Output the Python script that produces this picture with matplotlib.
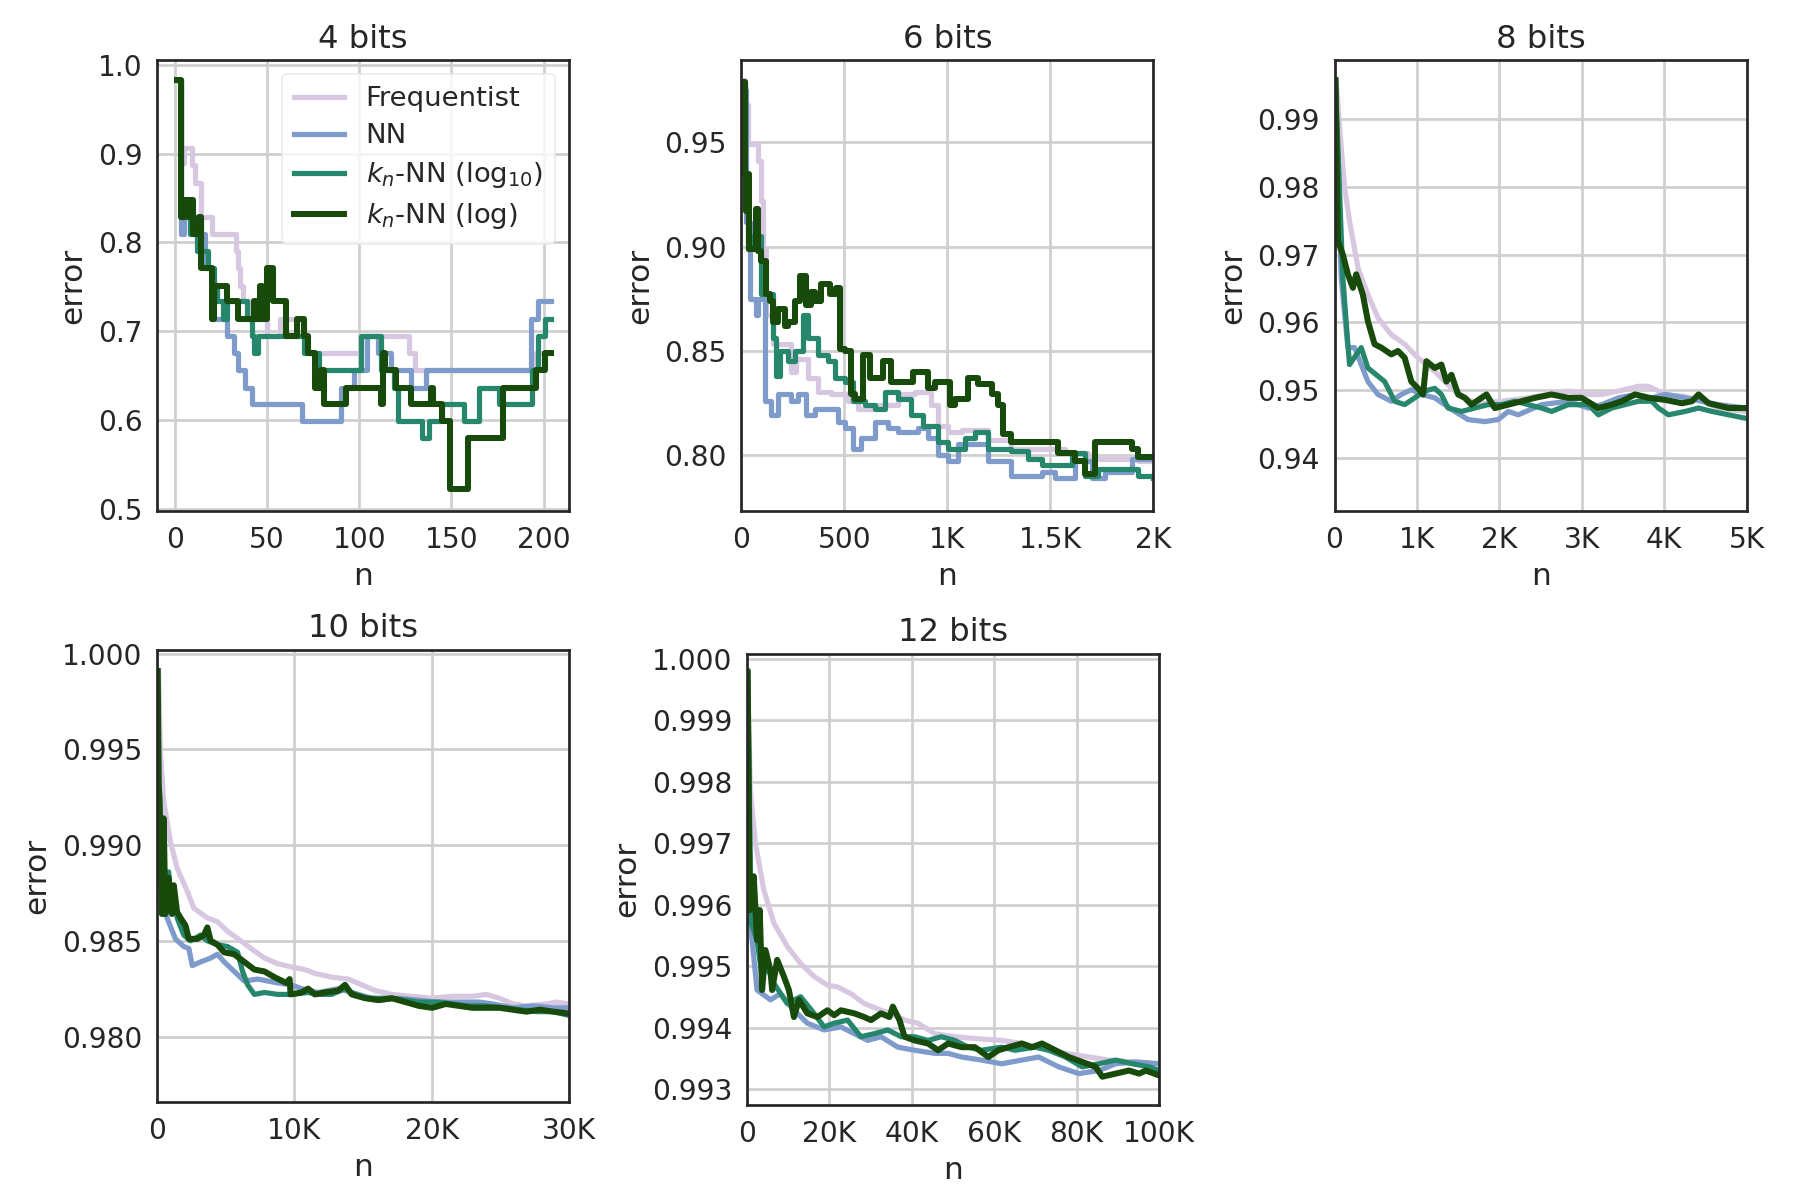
import matplotlib
matplotlib.use("Agg")
import matplotlib.pyplot as plt

# ---------------- data ----------------
series_names = ["Frequentist", "NN", r"$k_n$-NN (log$_{10}$)", r"$k_n$-NN (log)"]
colors = ["#d8c7e1", "#7f9bcb", "#27876d", "#174a0b"]
titles = ["4 bits", "6 bits", "8 bits", "10 bits", "12 bits"]

# ---- 4 bits (step curves) ----
b4_freq_x = [1, 3, 5, 9, 11, 14, 20, 33, 34, 35, 37, 40, 50, 57, 70, 72, 101, 127, 130, 196, 204]
b4_freq_y = [0.983, 0.890, 0.906, 0.887, 0.867, 0.829, 0.810, 0.790, 0.771, 0.751, 0.734, 0.714, 0.695, 0.714, 0.695, 0.675, 0.695, 0.675, 0.656, 0.675, 0.675]
b4_nn_x = [1, 3, 5, 14, 16, 20, 28, 32, 34, 38, 40, 42, 69, 90, 97, 104, 110, 117, 128, 136, 193, 197, 204]
b4_nn_y = [0.983, 0.810, 0.829, 0.810, 0.771, 0.714, 0.695, 0.675, 0.656, 0.636, 0.636, 0.618, 0.599, 0.636, 0.656, 0.695, 0.675, 0.656, 0.636, 0.656, 0.714, 0.734, 0.734]
b4_l10_x = [1, 3, 5, 8, 12, 18, 21, 23, 26, 28, 39, 42, 43, 45, 70, 78, 101, 112, 119, 121, 134, 138, 145, 157, 165, 176, 194, 197, 201, 204]
b4_l10_y = [0.983, 0.829, 0.848, 0.810, 0.790, 0.771, 0.751, 0.734, 0.714, 0.734, 0.714, 0.695, 0.675, 0.695, 0.675, 0.656, 0.695, 0.656, 0.636, 0.599, 0.580, 0.599, 0.618, 0.599, 0.636, 0.618, 0.656, 0.695, 0.714, 0.714]
b4_log_x = [1, 3, 5, 7, 8, 10, 13, 14, 20, 21, 28, 34, 43, 44, 46, 47, 50, 53, 60, 66, 70, 72, 76, 79, 81, 93, 112, 113, 114, 120, 128, 139, 140, 141, 145, 149, 159, 178, 196, 201, 204]
b4_log_y = [0.983, 0.829, 0.848, 0.829, 0.848, 0.810, 0.829, 0.771, 0.714, 0.751, 0.734, 0.714, 0.734, 0.714, 0.751, 0.714, 0.771, 0.734, 0.695, 0.714, 0.695, 0.675, 0.636, 0.656, 0.618, 0.636, 0.618, 0.675, 0.656, 0.636, 0.618, 0.636, 0.618, 0.618, 0.599, 0.522, 0.580, 0.636, 0.656, 0.675, 0.675]

# ---- 6 bits ----
b6_freq_x = [1, 16, 32, 65, 81, 97, 105, 121, 154, 210, 243, 267, 324, 372, 437, 518, 566, 647, 760, 841, 922, 955, 1003, 1069, 1198, 1311, 1522, 1570, 1667, 1683, 1862, 1926, 2000]
b6_freq_y = [0.980, 0.968, 0.949, 0.949, 0.941, 0.922, 0.899, 0.867, 0.853, 0.853, 0.840, 0.846, 0.837, 0.830, 0.829, 0.826, 0.822, 0.824, 0.829, 0.830, 0.824, 0.814, 0.811, 0.812, 0.807, 0.803, 0.803, 0.801, 0.801, 0.798, 0.798, 0.797, 0.797]
b6_nn_x = [1, 24, 40, 73, 81, 113, 130, 146, 178, 210, 243, 275, 315, 356, 421, 469, 502, 542, 582, 647, 712, 760, 857, 906, 955, 1003, 1053, 1133, 1198, 1311, 1425, 1457, 1522, 1587, 1619, 1700, 1765, 1894, 2000]
b6_nn_y = [0.975, 0.912, 0.875, 0.867, 0.875, 0.826, 0.826, 0.819, 0.829, 0.829, 0.826, 0.829, 0.819, 0.822, 0.822, 0.816, 0.813, 0.803, 0.808, 0.816, 0.813, 0.811, 0.813, 0.808, 0.800, 0.797, 0.805, 0.805, 0.797, 0.790, 0.790, 0.792, 0.789, 0.789, 0.797, 0.789, 0.792, 0.798, 0.798]
b6_l10_x = [1, 16, 32, 50, 97, 154, 170, 186, 226, 259, 299, 324, 372, 421, 453, 502, 542, 599, 647, 696, 760, 825, 882, 955, 1003, 1036, 1085, 1133, 1198, 1311, 1392, 1457, 1570, 1603, 1667, 1732, 1862, 1926, 2000]
b6_l10_y = [0.979, 0.930, 0.899, 0.905, 0.877, 0.856, 0.838, 0.850, 0.845, 0.850, 0.867, 0.856, 0.848, 0.845, 0.837, 0.835, 0.826, 0.824, 0.822, 0.830, 0.827, 0.819, 0.814, 0.806, 0.803, 0.803, 0.808, 0.811, 0.803, 0.802, 0.798, 0.795, 0.795, 0.801, 0.790, 0.793, 0.793, 0.790, 0.789]
b6_log_x = [1, 16, 24, 29, 36, 73, 81, 97, 121, 138, 154, 178, 210, 227, 259, 283, 299, 315, 340, 356, 388, 429, 461, 477, 502, 534, 550, 590, 623, 688, 728, 833, 906, 938, 1011, 1036, 1101, 1150, 1214, 1247, 1271, 1311, 1505, 1538, 1619, 1667, 1716, 1845, 1894, 1926, 2000]
b6_log_y = [0.979, 0.935, 0.917, 0.935, 0.899, 0.918, 0.898, 0.893, 0.877, 0.874, 0.864, 0.870, 0.862, 0.864, 0.874, 0.886, 0.886, 0.872, 0.878, 0.874, 0.882, 0.877, 0.880, 0.851, 0.850, 0.829, 0.827, 0.848, 0.837, 0.845, 0.835, 0.840, 0.832, 0.835, 0.824, 0.827, 0.837, 0.834, 0.829, 0.824, 0.810, 0.806, 0.806, 0.801, 0.797, 0.791, 0.806, 0.806, 0.803, 0.799, 0.799]

# ---- 8 bits ----
b8_freq_x = [20, 61, 122, 182, 284, 405, 527, 689, 851, 1013, 1216, 1337, 1459, 1662, 1824, 2026, 2350, 2594, 2837, 3080, 3242, 3445, 3688, 3810, 4012, 4255, 4458, 4660, 4985]
b8_freq_y = [0.9957, 0.9888, 0.9799, 0.9750, 0.9681, 0.9641, 0.9607, 0.9582, 0.9568, 0.9548, 0.9528, 0.9513, 0.9499, 0.9484, 0.9481, 0.9484, 0.9489, 0.9494, 0.9499, 0.9494, 0.9494, 0.9499, 0.9506, 0.9506, 0.9494, 0.9491, 0.9484, 0.9474, 0.9469]
b8_nn_x = [10, 81, 162, 243, 405, 527, 689, 811, 932, 1054, 1216, 1459, 1621, 1824, 1986, 2108, 2229, 2513, 2837, 3080, 3242, 3445, 3648, 3850, 4012, 4255, 4458, 4660, 4985]
b8_nn_y = [0.9957, 0.9666, 0.9563, 0.9563, 0.9513, 0.9494, 0.9484, 0.9494, 0.9501, 0.9494, 0.9489, 0.9469, 0.9457, 0.9454, 0.9457, 0.9469, 0.9464, 0.9479, 0.9484, 0.9474, 0.9479, 0.9489, 0.9494, 0.9489, 0.9494, 0.9489, 0.9484, 0.9479, 0.9474]
b8_l10_x = [10, 101, 162, 182, 324, 405, 608, 730, 851, 973, 1094, 1216, 1297, 1378, 1540, 1702, 1864, 2026, 2189, 2513, 2634, 2837, 3080, 3202, 3364, 3526, 3688, 3850, 3931, 4053, 4255, 4418, 4580, 4782, 4985]
b8_l10_y = [0.9957, 0.9666, 0.9568, 0.9538, 0.9563, 0.9533, 0.9513, 0.9484, 0.9479, 0.9489, 0.9499, 0.9503, 0.9494, 0.9474, 0.9469, 0.9474, 0.9479, 0.9479, 0.9484, 0.9474, 0.9469, 0.9479, 0.9479, 0.9464, 0.9474, 0.9479, 0.9484, 0.9484, 0.9474, 0.9464, 0.9469, 0.9474, 0.9469, 0.9464, 0.9459]
b8_log_x = [12, 41, 101, 162, 223, 263, 344, 405, 486, 567, 689, 770, 851, 932, 1013, 1074, 1115, 1216, 1297, 1358, 1419, 1500, 1581, 1662, 1783, 1844, 1945, 2108, 2270, 2432, 2634, 2837, 2999, 3202, 3364, 3486, 3648, 3810, 4012, 4215, 4337, 4418, 4540, 4782, 4985]
b8_log_y = [0.9957, 0.9720, 0.9700, 0.9671, 0.9651, 0.9671, 0.9641, 0.9602, 0.9568, 0.9563, 0.9553, 0.9558, 0.9548, 0.9513, 0.9503, 0.9494, 0.9543, 0.9533, 0.9538, 0.9513, 0.9523, 0.9494, 0.9489, 0.9479, 0.9489, 0.9494, 0.9474, 0.9479, 0.9484, 0.9489, 0.9494, 0.9489, 0.9489, 0.9474, 0.9479, 0.9484, 0.9494, 0.9489, 0.9486, 0.9481, 0.9484, 0.9494, 0.9481, 0.9474, 0.9474]

# ---- 10 bits ----
b10_freq_x = [122, 245, 489, 978, 1467, 2200, 2690, 3667, 4400, 5135, 6112, 6846, 7824, 8802, 10025, 10758, 11492, 12714, 13937, 14915, 15893, 17115, 18582, 20049, 21516, 22983, 23961, 24939, 25917, 26895, 28362, 29096, 30000]
b10_freq_y = [0.9991, 0.9949, 0.9923, 0.9902, 0.9888, 0.9876, 0.9867, 0.9862, 0.9860, 0.9855, 0.9850, 0.9846, 0.9841, 0.9838, 0.9836, 0.9835, 0.9833, 0.9831, 0.9830, 0.9827, 0.9824, 0.9822, 0.9821, 0.9820, 0.9821, 0.9821, 0.9822, 0.9820, 0.9817, 0.9816, 0.9817, 0.9818, 0.9817]
b10_nn_x = [49, 245, 734, 1345, 1956, 2323, 2567, 3179, 3912, 4401, 4890, 5624, 6357, 7335, 8069, 8802, 9780, 10514, 11736, 13203, 14670, 16137, 17604, 19071, 20294, 22005, 23472, 24450, 25917, 27384, 28851, 30000]
b10_nn_y = [0.9991, 0.9883, 0.9862, 0.9851, 0.9847, 0.9846, 0.9837, 0.9839, 0.9841, 0.9843, 0.9839, 0.9834, 0.9829, 0.9830, 0.9829, 0.9828, 0.9827, 0.9825, 0.9823, 0.9825, 0.9822, 0.9819, 0.9820, 0.9819, 0.9818, 0.9818, 0.9818, 0.9817, 0.9815, 0.9816, 0.9815, 0.9815]
b10_l10_x = [49, 122, 856, 978, 1223, 1467, 1956, 2445, 3179, 3668, 4401, 5135, 5868, 6235, 6602, 7091, 7824, 8802, 9780, 11003, 11736, 12714, 13692, 14181, 15159, 17115, 19071, 20538, 21516, 22739, 23961, 25184, 26406, 27629, 28851, 30000]
b10_l10_y = [0.9991, 0.9883, 0.9886, 0.9867, 0.9879, 0.9862, 0.9853, 0.9850, 0.9853, 0.9850, 0.9848, 0.9847, 0.9844, 0.9834, 0.9827, 0.9822, 0.9823, 0.9822, 0.9822, 0.9823, 0.9822, 0.9822, 0.9825, 0.9823, 0.9820, 0.9820, 0.9818, 0.9818, 0.9817, 0.9816, 0.9816, 0.9815, 0.9814, 0.9813, 0.9813, 0.9811]
b10_log_x = [49, 122, 196, 367, 489, 611, 856, 1100, 1223, 1467, 1712, 2078, 2323, 2934, 3423, 3668, 3912, 4401, 4890, 5624, 6357, 7091, 7824, 8558, 9413, 9658, 9731, 10514, 11003, 11492, 12225, 13203, 13692, 14181, 15159, 16137, 17115, 18093, 19071, 20049, 21027, 22005, 22983, 23961, 24939, 25917, 26895, 27873, 28851, 30000]
b10_log_y = [0.9991, 0.9932, 0.9923, 0.9864, 0.9914, 0.9864, 0.9883, 0.9864, 0.9879, 0.9865, 0.9862, 0.9858, 0.9851, 0.9851, 0.9853, 0.9857, 0.9850, 0.9848, 0.9844, 0.9843, 0.9839, 0.9835, 0.9834, 0.9831, 0.9828, 0.9830, 0.9822, 0.9823, 0.9825, 0.9822, 0.9823, 0.9824, 0.9827, 0.9822, 0.9820, 0.9819, 0.9820, 0.9818, 0.9816, 0.9815, 0.9817, 0.9816, 0.9815, 0.9815, 0.9815, 0.9814, 0.9813, 0.9814, 0.9813, 0.9812]

# ---- 12 bits ----
b12_freq_x = [244, 814, 2034, 4068, 6508, 9762, 13016, 16270, 19524, 21965, 25219, 28473, 32540, 34981, 38235, 41489, 45556, 50437, 55318, 61826, 66707, 71588, 77283, 82977, 87858, 93553, 100000]
b12_freq_y = [0.99950, 0.99787, 0.99700, 0.99624, 0.99570, 0.99532, 0.99504, 0.99483, 0.99469, 0.99466, 0.99455, 0.99439, 0.99428, 0.99423, 0.99412, 0.99407, 0.99390, 0.99385, 0.99382, 0.99379, 0.99374, 0.99366, 0.99358, 0.99352, 0.99347, 0.99344, 0.99341]
b12_nn_x = [163, 814, 2441, 5695, 8135, 10576, 14643, 18711, 22778, 26032, 29286, 32540, 36608, 40675, 45556, 48810, 52064, 56945, 61826, 66707, 70775, 75656, 80537, 85418, 89485, 94366, 100000]
b12_nn_y = [0.99980, 0.99570, 0.99461, 0.99445, 0.99455, 0.99434, 0.99407, 0.99396, 0.99401, 0.99390, 0.99379, 0.99385, 0.99368, 0.99363, 0.99358, 0.99358, 0.99352, 0.99347, 0.99341, 0.99347, 0.99352, 0.99336, 0.99325, 0.99330, 0.99341, 0.99344, 0.99341]
b12_l10_x = [163, 976, 2441, 3661, 4881, 6508, 9762, 13016, 16270, 18711, 21151, 24405, 27659, 30913, 34167, 37421, 40675, 43929, 47183, 50437, 53691, 56945, 61826, 65080, 69961, 73215, 77283, 81350, 85418, 89485, 93553, 97620, 100000]
b12_l10_y = [0.99980, 0.99570, 0.99542, 0.99483, 0.99499, 0.99472, 0.99439, 0.99450, 0.99423, 0.99401, 0.99407, 0.99412, 0.99385, 0.99390, 0.99396, 0.99385, 0.99385, 0.99379, 0.99385, 0.99379, 0.99368, 0.99363, 0.99368, 0.99363, 0.99368, 0.99363, 0.99352, 0.99336, 0.99341, 0.99347, 0.99341, 0.99336, 0.99330]
b12_log_x = [163, 651, 1627, 2441, 3091, 3661, 4474, 5695, 6101, 7322, 8949, 10169, 11389, 12609, 14643, 17084, 19524, 21151, 22778, 26032, 28473, 30100, 32540, 34574, 35387, 37014, 38235, 40675, 43929, 46370, 48810, 52064, 55318, 58572, 61013, 63453, 66707, 69148, 71588, 74842, 78096, 81350, 84604, 86231, 89485, 92739, 95180, 96807, 100000]
b12_log_y = [0.99977, 0.99591, 0.99646, 0.99542, 0.99591, 0.99461, 0.99526, 0.99493, 0.99461, 0.99510, 0.99483, 0.99461, 0.99417, 0.99445, 0.99423, 0.99417, 0.99428, 0.99420, 0.99428, 0.99423, 0.99417, 0.99412, 0.99423, 0.99417, 0.99434, 0.99412, 0.99385, 0.99379, 0.99374, 0.99363, 0.99374, 0.99368, 0.99368, 0.99352, 0.99363, 0.99368, 0.99374, 0.99368, 0.99374, 0.99363, 0.99352, 0.99344, 0.99336, 0.99320, 0.99325, 0.99330, 0.99325, 0.99330, 0.99322]

# ticks
b4_xticks = [0, 50, 100, 150, 200]
b4_xlabels = ["0", "50", "100", "150", "200"]
b4_yticks = [0.5, 0.6, 0.7, 0.8, 0.9, 1.0]
b4_ylabels = ["0.5", "0.6", "0.7", "0.8", "0.9", "1.0"]
b6_xticks = [0, 500, 1000, 1500, 2000]
b6_xlabels = ["0", "500", "1K", "1.5K", "2K"]
b6_yticks = [0.80, 0.85, 0.90, 0.95]
b6_ylabels = ["0.80", "0.85", "0.90", "0.95"]
b8_xticks = [0, 1000, 2000, 3000, 4000, 5000]
b8_xlabels = ["0", "1K", "2K", "3K", "4K", "5K"]
b8_yticks = [0.94, 0.95, 0.96, 0.97, 0.98, 0.99]
b8_ylabels = ["0.94", "0.95", "0.96", "0.97", "0.98", "0.99"]
b10_xticks = [0, 10000, 20000, 30000]
b10_xlabels = ["0", "10K", "20K", "30K"]
b10_yticks = [0.980, 0.985, 0.990, 0.995, 1.000]
b10_ylabels = ["0.980", "0.985", "0.990", "0.995", "1.000"]
b12_xticks = [0, 20000, 40000, 60000, 80000, 100000]
b12_xlabels = ["0", "20K", "40K", "60K", "80K", "100K"]
b12_yticks = [0.993, 0.994, 0.995, 0.996, 0.997, 0.998, 0.999, 1.000]
b12_ylabels = ["0.993", "0.994", "0.995", "0.996", "0.997", "0.998", "0.999", "1.000"]

# ---------------- figure ----------------
TXT = "#262626"
plt.rcParams.update({
    "font.family": ["DejaVu Sans"],
    "text.color": TXT,
    "axes.labelcolor": TXT,
    "xtick.color": TXT,
    "ytick.color": TXT,
    "mathtext.fontset": "dejavusans",
})

fig = plt.figure(figsize=(12, 8), dpi=150)

panels = [
    dict(rect=[0.0872, 0.5742, 0.2289, 0.3758], xlim=(-9.8, 213.8), ylim=(0.4975, 1.0055), steps=True,
         data=[(b4_freq_x, b4_freq_y), (b4_nn_x, b4_nn_y), (b4_l10_x, b4_l10_y), (b4_log_x, b4_log_y)],
         xt=(b4_xticks, b4_xlabels), yt=(b4_yticks, b4_ylabels)),
    dict(rect=[0.4119, 0.5742, 0.2289, 0.3758], xlim=(0, 2000), ylim=(0.7731, 0.9895), steps=True,
         data=[(b6_freq_x, b6_freq_y), (b6_nn_x, b6_nn_y), (b6_l10_x, b6_l10_y), (b6_log_x, b6_log_y)],
         xt=(b6_xticks, b6_xlabels), yt=(b6_yticks, b6_ylabels)),
    dict(rect=[0.7414, 0.5742, 0.2289, 0.3758], xlim=(0, 5000), ylim=(0.93224, 0.99866), steps=False,
         data=[(b8_freq_x, b8_freq_y), (b8_nn_x, b8_nn_y), (b8_l10_x, b8_l10_y), (b8_log_x, b8_log_y)],
         xt=(b8_xticks, b8_xlabels), yt=(b8_yticks, b8_ylabels)),
    dict(rect=[0.0872, 0.0817, 0.2289, 0.3767], xlim=(0, 30000), ylim=(0.97658, 1.0002), steps=False,
         data=[(b10_freq_x, b10_freq_y), (b10_nn_x, b10_nn_y), (b10_l10_x, b10_l10_y), (b10_log_x, b10_log_y)],
         xt=(b10_xticks, b10_xlabels), yt=(b10_yticks, b10_ylabels)),
    dict(rect=[0.4150, 0.0792, 0.2289, 0.3760], xlim=(0, 100000), ylim=(0.99274, 1.00008), steps=False,
         data=[(b12_freq_x, b12_freq_y), (b12_nn_x, b12_nn_y), (b12_l10_x, b12_l10_y), (b12_log_x, b12_log_y)],
         xt=(b12_xticks, b12_xlabels), yt=(b12_yticks, b12_ylabels)),
]

for i, p in enumerate(panels):
    ax = fig.add_axes(p["rect"])
    ax.set_facecolor("white")
    ax.grid(True, color="#cfcfcf", linewidth=1.3, zorder=0)
    ax.set_axisbelow(True)
    for (xs, ys), c, name in zip(p["data"], colors, series_names):
        lw = 2.9 if c == colors[3] else 2.5
        ax.plot(xs, ys, color=c, lw=lw, label=name,
                drawstyle="steps-post" if p["steps"] else "default",
                solid_joinstyle="round")
    ax.set_xlim(*p["xlim"])
    ax.set_ylim(*p["ylim"])
    ax.set_xticks(p["xt"][0])
    ax.set_xticklabels(p["xt"][1])
    ax.set_yticks(p["yt"][0])
    ax.set_yticklabels(p["yt"][1])
    ax.tick_params(axis="both", length=0, labelsize=13.5, pad=7)
    for s in ax.spines.values():
        s.set_color(TXT)
        s.set_linewidth(1.3)
    ax.set_xlabel("n", fontsize=15, labelpad=4)
    ax.set_ylabel("error", fontsize=15, labelpad=5)
    ax.set_title(titles[i], fontsize=15.5, pad=6)
    if i == 0:
        leg = ax.legend(loc="upper right", fontsize=13.2, frameon=True, framealpha=0.8,
                        edgecolor="#e6e6e6", fancybox=True, borderpad=0.45,
                        handlelength=1.8, handletextpad=0.8, labelspacing=0.4)
        leg.get_frame().set_linewidth(0.8)

fig.savefig("out.png", dpi=150, facecolor="white")
